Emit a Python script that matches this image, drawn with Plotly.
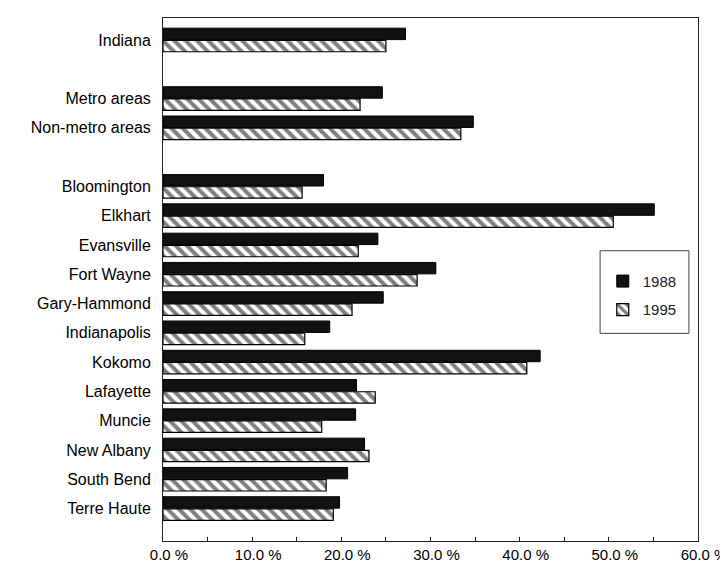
import plotly.graph_objects as go

# ---- data ----
regions = ["Indiana", " ", "Metro areas", "Non-metro areas", "  ",
           "Bloomington", "Elkhart", "Evansville", "Fort Wayne", "Gary-Hammond",
           "Indianapolis", "Kokomo", "Lafayette", "Muncie", "New Albany",
           "South Bend", "Terre Haute"]
data_regions = ["Indiana", "Metro areas", "Non-metro areas",
                "Bloomington", "Elkhart", "Evansville", "Fort Wayne", "Gary-Hammond",
                "Indianapolis", "Kokomo", "Lafayette", "Muncie", "New Albany",
                "South Bend", "Terre Haute"]
share_1988 = [27.2, 24.6, 34.8, 18.0, 55.1, 24.1, 30.6, 24.7, 18.7, 42.3, 21.7, 21.6, 22.6, 20.7, 19.8]
share_1995 = [25.0, 22.1, 33.4, 15.6, 50.5, 21.9, 28.5, 21.2, 15.9, 40.8, 23.8, 17.8, 23.1, 18.3, 19.1]
series_names = ["1988", "1995"]
x_ticks = [0, 10, 20, 30, 40, 50, 60]
x_tick_labels = ["0.0 %", "10.0 %", "20.0 %", "30.0 %", "40.0 %", "50.0 %", "60.0 %"]

FONT = "Liberation Sans Narrow, Arial Narrow, Liberation Sans, sans-serif"

fig = go.Figure()
fig.add_trace(go.Bar(
    name=series_names[0], y=data_regions, x=share_1988, orientation="h",
    legendgroup="a",
    marker=dict(color="#111111", line=dict(color="#000000", width=1)),
))
fig.add_trace(go.Bar(
    name=series_names[1], y=data_regions, x=share_1995, orientation="h",
    legendgroup="b",
    marker=dict(color="#ffffff", line=dict(color="#000000", width=1.2),
                pattern=dict(shape="\\", fgcolor="#000000", bgcolor="#ffffff",
                             size=8, solidity=0.5)),
))

n = len(regions)
fig.update_layout(
    width=728, height=570,
    paper_bgcolor="white", plot_bgcolor="white",
    margin=dict(l=155, r=31, t=9, b=37),
    barmode="group", bargap=0.17, bargroupgap=0.06,
    font=dict(family=FONT, color="#000000", size=15),
    showlegend=True,
    legend=dict(x=0.822, y=0.528, xanchor="left", yanchor="top",
                borderwidth=0, bgcolor="rgba(0,0,0,0)",
                traceorder="grouped", font=dict(size=15, family=FONT, color="#222222"),
                itemwidth=30, tracegroupgap=6),
    shapes=[dict(type="rect", xref="paper", yref="paper",
                 x0=0.817, x1=0.983, y0=0.397, y1=0.555,
                 line=dict(color="#444444", width=1), fillcolor="white", layer="below")],
    xaxis=dict(range=[0, 60], tickvals=x_ticks, ticktext=x_tick_labels,
               showgrid=False, zeroline=False, showline=True, linecolor="#222222",
               linewidth=1, mirror=True, ticks="inside", ticklen=4,
               tickcolor="#222222", tickfont=dict(size=15, family=FONT),
               ticklabelshift=6,
               minor=dict(dtick=5, ticks="inside", ticklen=4, tickcolor="#222222")),
    yaxis=dict(type="category", categoryorder="array", categoryarray=regions,
               range=[n - 1 + 1.11, -0.75], showgrid=False, zeroline=False,
               showline=True, linecolor="#222222", linewidth=1, mirror=True,
               ticks="", tickfont=dict(size=16, family=FONT), ticklabelstandoff=8),
)

fig.write_html("out.html")
